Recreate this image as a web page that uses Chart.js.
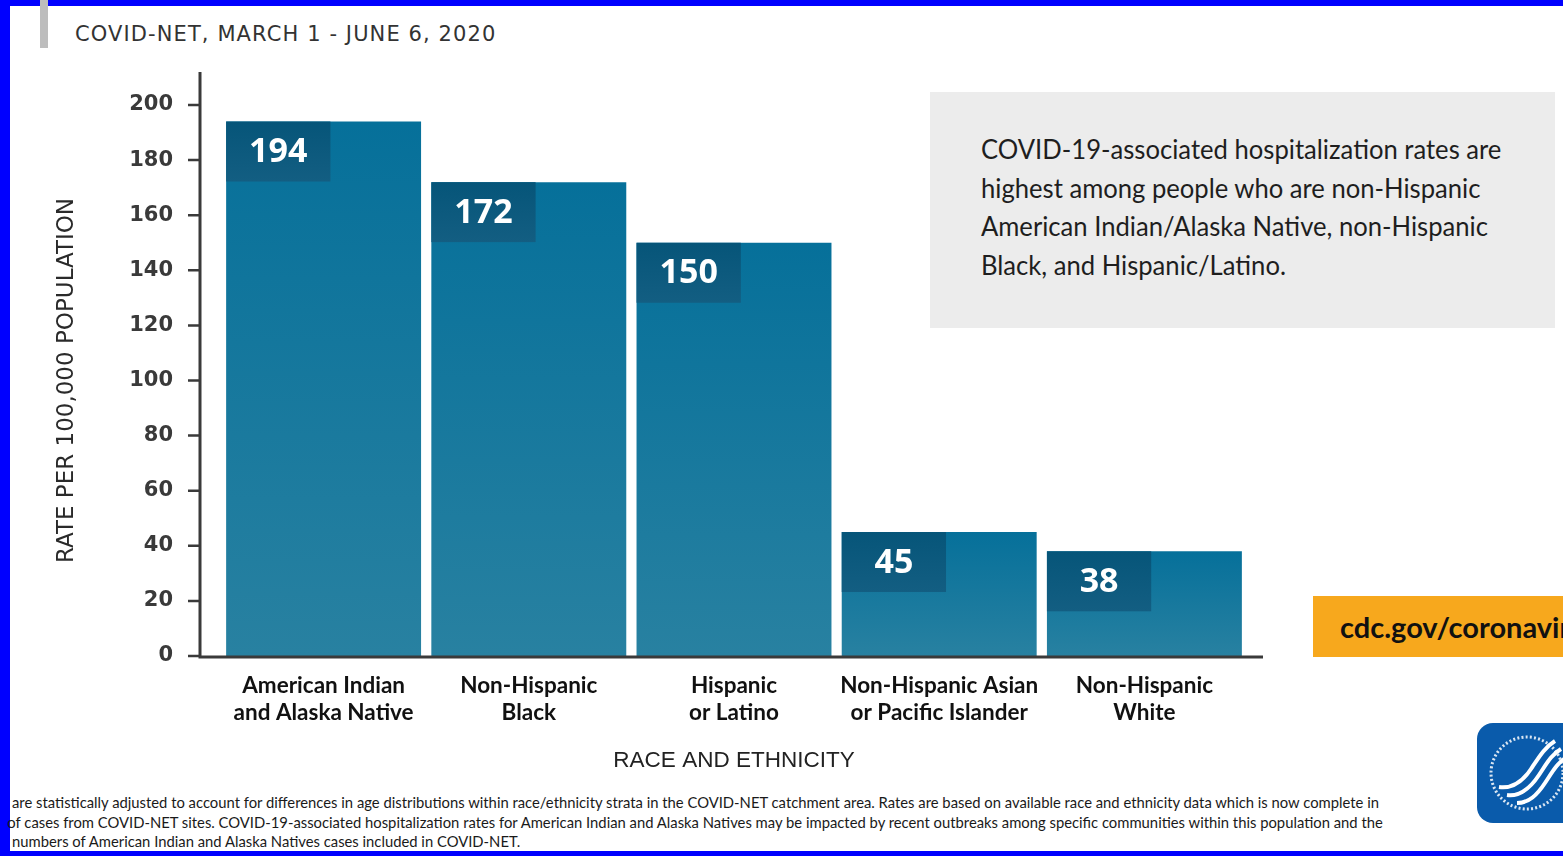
<!DOCTYPE html>
<html>
<head>
<meta charset="utf-8">
<script src="https://cdn.jsdelivr.net/npm/chart.js@4.4.1/dist/chart.umd.min.js"></script>
<style>
  html, body { margin: 0; padding: 0; }
  body { width: 1563px; height: 856px; background: #0000ff; position: relative; overflow: hidden; }
  #panel { position: absolute; left: 10px; top: 6px; right: 0; bottom: 5px; background: #fff; overflow: hidden; }
  #wrap { position: absolute; left: 0; top: 0; width: 1563px; height: 856px; }
  #bar { position: absolute; left: 40px; top: 0; width: 8px; height: 48px; background: #bdbdbd; }
  #sub { position: absolute; left: 75px; top: 22px; font: 21px "DejaVu Sans", sans-serif; letter-spacing: 1.1px; color: #333; white-space: nowrap; }
  #note { position: absolute; left: 930px; top: 92px; width: 625px; height: 236px; background: #ececec; }
  #note p { margin: 0; position: absolute; left: 51px; top: 38px; font: 27px Lato, sans-serif; line-height: 38.5px; color: #1e1e1e; white-space: nowrap; }
  #url { position: absolute; left: 1313px; top: 596px; width: 260px; height: 61px; background: #f7a81d; }
  #url span { position: absolute; left: 27px; top: 13px; font: bold 29px Lato, sans-serif; color: #111; white-space: nowrap; }
  #foot { position: absolute; left: 12px; top: 792px; font: 16px Lato, sans-serif; line-height: 19.5px; color: #1a1a1a; white-space: nowrap; }
  #hhs { position: absolute; left: 1477px; top: 723px; }
  .fit { display: inline-block; transform-origin: left top; }
</style>
</head>
<body>
<div id="panel"></div>
<div id="bar"></div>
<div id="sub">COVID-NET, MARCH 1 - JUNE 6, 2020</div>
<div id="note"><p class="fit" data-w="520">COVID-19-associated hospitalization rates are<br>highest among people who are non-Hispanic<br>American Indian/Alaska Native, non-Hispanic<br>Black, and Hispanic/Latino.</p></div>
<div id="url"><span>cdc.gov/coronavirus</span></div>
<div id="foot" class="fit" data-w="1371">are statistically adjusted to account for differences in age distributions within race/ethnicity strata in the COVID-NET catchment area. Rates are based on available race and ethnicity data which is now complete in<br><span style="margin-left:-5px">of cases from COVID-NET sites. COVID-19-associated hospitalization rates for American Indian and Alaska Natives may be impacted by recent outbreaks among specific communities within this population and the</span><br>numbers of American Indian and Alaska Natives cases included in COVID-NET.</div>
<div id="hhs">
  <svg width="100" height="100" viewBox="0 0 100 100">
    <rect x="0" y="0" width="100" height="100" rx="16" fill="#0a5bab"/>
    <circle cx="50" cy="50" r="36" fill="none" stroke="#fff" stroke-width="3" stroke-dasharray="2 2.2" opacity="0.85"/>
    <path d="M22 64 C36 66, 46 58, 54 46 S68 24, 78 18" stroke="#fff" stroke-width="4" fill="none"/>
    <path d="M30 72 C44 74, 54 64, 62 52 S74 32, 84 26" stroke="#fff" stroke-width="4" fill="none"/>
    <path d="M40 80 C52 80, 60 72, 68 60 S80 40, 90 34" stroke="#fff" stroke-width="4" fill="none"/>
  </svg>
</div>
<div id="wrap"><canvas id="chart" width="1563" height="856"></canvas></div>
<script>
const categories = [
  ["American Indian", "and Alaska Native"],
  ["Non-Hispanic", "Black"],
  ["Hispanic", "or Latino"],
  ["Non-Hispanic Asian", "or Pacific Islander"],
  ["Non-Hispanic", "White"]
];
const rates = [194, 172, 150, 45, 38];
const yTicks = [0, 20, 40, 60, 80, 100, 120, 140, 160, 180, 200];

const barTop = "#06709a";
const barBottom = "#2881a1";

// squeeze the html text blocks to the widths they have in the original
document.querySelectorAll(".fit").forEach(el => {
  const k = Number(el.dataset.w) / el.offsetWidth;
  el.style.transform = "scaleX(" + k + ")";
});

// axis lines sit a little outside the bars, like the original
const axisGap = 21;
const axisTail = 16;
const axisRise = 33;

const decor = {
  id: "decor",
  afterDatasetsDraw(chart) {
    const { ctx, chartArea: a, scales: { y } } = chart;
    const x0 = a.left - axisGap;
    ctx.save();
    ctx.strokeStyle = "#3a3a3a";
    ctx.lineWidth = 3;
    ctx.beginPath();
    ctx.moveTo(x0, a.top - axisRise);
    ctx.lineTo(x0, a.bottom + 2.5);
    ctx.moveTo(x0 - 1.5, a.bottom + 1);
    ctx.lineTo(a.right + axisTail, a.bottom + 1);
    ctx.stroke();
    ctx.lineWidth = 2.5;
    ctx.beginPath();
    yTicks.forEach(v => {
      const py = y.getPixelForValue(v);
      ctx.moveTo(x0 - 12, py);
      ctx.lineTo(x0, py);
    });
    ctx.stroke();

    // value boxes in the top-left corner of each bar
    const meta = chart.getDatasetMeta(0);
    meta.data.forEach((bar, i) => {
      const left = bar.x - bar.width / 2;
      const w = bar.width * 0.535;
      const h = 60;
      const g = ctx.createLinearGradient(0, bar.y, 0, bar.y + h);
      g.addColorStop(0, "#065579");
      g.addColorStop(1, "#135e82");
      ctx.fillStyle = g;
      ctx.fillRect(left, bar.y, w, h);
      ctx.fillStyle = "#fff";
      ctx.font = "bold 34px 'Open Sans', sans-serif";
      ctx.textAlign = "center";
      ctx.textBaseline = "middle";
      ctx.fillText(String(rates[i]), left + w / 2, bar.y + h / 2 + 1);
    });
    ctx.restore();
  }
};

new Chart(document.getElementById("chart"), {
  type: "bar",
  plugins: [decor],
  data: {
    labels: categories,
    datasets: [{
      data: rates,
      barPercentage: 0.95,
      categoryPercentage: 1.0,
      backgroundColor: (c) => {
        const chart = c.chart;
        if (!chart.chartArea || c.raw === undefined) return barBottom;
        const y = chart.scales.y;
        const g = chart.ctx.createLinearGradient(0, y.getPixelForValue(c.raw), 0, y.getPixelForValue(0));
        g.addColorStop(0, barTop);
        g.addColorStop(1, barBottom);
        return g;
      },
      borderWidth: 0
    }]
  },
  options: {
    responsive: false,
    animation: false,
    layout: { padding: { left: 40, right: 316, top: 105, bottom: 70 } },
    plugins: {
      legend: { display: false },
      tooltip: { enabled: false }
    },
    scales: {
      x: {
        grid: { display: false, drawTicks: false },
        border: { display: false },
        ticks: {
          padding: 16,
          color: "#111",
          font: { family: "Lato, sans-serif", size: 22.5, weight: "bold", lineHeight: "27px" },
          maxRotation: 0,
          autoSkip: false
        },
        title: {
          display: true,
          text: "RACE AND ETHNICITY",
          color: "#222",
          font: { family: "'Liberation Sans', sans-serif", size: 22.5 },
          padding: { top: 0, bottom: 12 }
        },
        afterFit: (s) => { s.height = 130; }
      },
      y: {
        min: 0,
        max: 200,
        grid: { display: false, drawTicks: false },
        border: { display: false },
        ticks: {
          stepSize: 20,
          padding: 48,
          color: "#3a3a3a",
          font: { family: "'DejaVu Sans', sans-serif", size: 21, weight: "bold" }
        },
        title: {
          display: true,
          text: "RATE PER 100,000 POPULATION",
          color: "#2a2a2a",
          font: { family: "'DejaVu Sans', sans-serif", size: 23 },
          padding: { top: 13, bottom: 0 }
        },
        afterFit: (s) => { s.width = 181; }
      }
    }
  }
});
</script>
</body>
</html>
